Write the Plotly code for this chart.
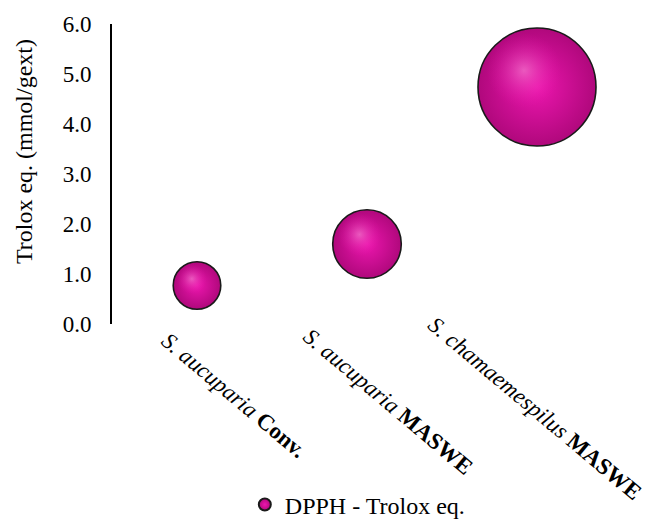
import math
import plotly.graph_objects as go

# Samples and their DPPH antioxidant activity (Trolox equivalents, mmol/g extract)
species = ["S. aucuparia", "S. aucuparia", "S. chamaemespilus"]
methods = ["Conv.", "MASWE", "MASWE"]
trolox_eq = [0.77, 1.60, 4.74]
positions = [1, 2, 3]
category_labels = [f"<i>{s}</i> <b>{m}</b>" for s, m in zip(species, methods)]
y_ticks = [0, 1, 2, 3, 4, 5, 6]

FONT = "Liberation Serif, Times New Roman, serif"
W, H = 649, 526
MARGIN = dict(l=112, r=27, t=24, b=202)
X_RANGE = [0.5, 3.5]
Y_RANGE = [0, 6]
MAX_DIAMETER = 118
sizeref = 2.0 * max(trolox_eq) / MAX_DIAMETER ** 2

# pixel scale of the plotting area, used to place the specular glow
px_per_x = (W - MARGIN["l"] - MARGIN["r"]) / (X_RANGE[1] - X_RANGE[0])
px_per_y = (H - MARGIN["t"] - MARGIN["b"]) / (Y_RANGE[1] - Y_RANGE[0])
radii = [MAX_DIAMETER / 2 * math.sqrt(v / max(trolox_eq)) for v in trolox_eq]
glow_x = [x - 0.22 * r / px_per_x for x, r in zip(positions, radii)]
glow_y = [y + 0.28 * r / px_per_y for y, r in zip(trolox_eq, radii)]

fig = go.Figure()

# Sphere body: bright magenta core fading to a darker rim
fig.add_trace(go.Scatter(
    x=positions, y=trolox_eq, mode="markers",
    name="DPPH - Trolox eq.",
    marker=dict(
        size=trolox_eq, sizemode="area", sizeref=sizeref,
        color="#b0087c",
        gradient=dict(type="radial", color="#ec16ae"),
        line=dict(color="#1a1a1a", width=1.6),
        opacity=1,
    ),
))

# Soft specular glow on the upper-left of each sphere
fig.add_trace(go.Scatter(
    x=glow_x, y=glow_y, mode="markers",
    showlegend=False, hoverinfo="skip",
    marker=dict(
        size=[v * 0.40 for v in trolox_eq], sizemode="area", sizeref=sizeref,
        color="rgba(236,22,174,0)",
        gradient=dict(type="radial", color="rgba(248,138,214,0.85)"),
        line=dict(width=0),
    ),
))

# Rotated category labels under each sphere
label_dx = [37, 21, -2]
label_y = [-0.237, -0.257, -0.280]
annotations = [
    dict(
        text=t, x=x, xref="x", xshift=dx, y=yp, yref="paper",
        textangle=40, xanchor="center", yanchor="middle", showarrow=False,
        font=dict(family=FONT, size=23),
    )
    for t, x, dx, yp in zip(category_labels, positions, label_dx, label_y)
]
annotations.append(dict(
    text="Trolox eq. (mmol/gext)", textangle=-90,
    xref="paper", yref="paper", x=0, y=0.573, xshift=-88,
    xanchor="center", yanchor="middle", showarrow=False,
    font=dict(family=FONT, size=24),
))

fig.update_layout(
    width=W, height=H,
    margin=dict(**MARGIN, autoexpand=False),
    paper_bgcolor="white", plot_bgcolor="white",
    font=dict(family=FONT, size=23, color="#000000"),
    showlegend=True,
    legend=dict(
        orientation="h", x=0.482, xanchor="center", y=-0.603, yanchor="middle",
        font=dict(family=FONT, size=24), itemsizing="constant",
        bgcolor="rgba(0,0,0,0)",
    ),
    xaxis=dict(
        range=X_RANGE, tickvals=positions, showticklabels=False,
        showline=False, showgrid=False, zeroline=False,
        ticks="", automargin=False,
    ),
    yaxis=dict(
        range=Y_RANGE, tickvals=y_ticks, tickformat=".1f",
        showline=True, linecolor="#000000", linewidth=2,
        showgrid=False, zeroline=False, ticks="",
        ticklabelstandoff=14, automargin=False,
        tickfont=dict(family=FONT, size=23),
    ),
    annotations=annotations,
)

fig.write_html("out.html")
